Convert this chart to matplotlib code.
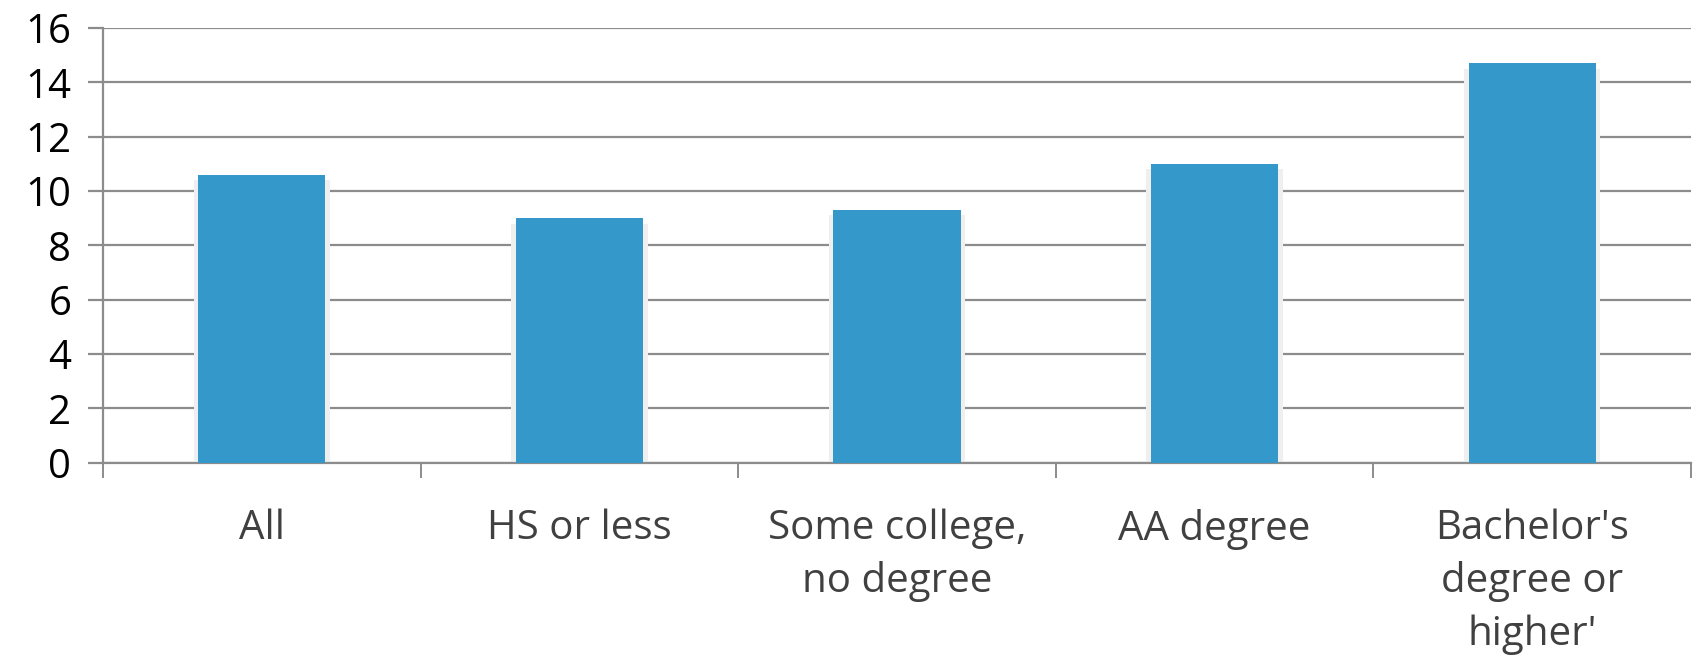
import numpy as np
import matplotlib.pyplot as plt

categorii = ["All", "HS or less", "Some college,\nno degree", "AA degree",
             "Bachelor's\ndegree or\nhigher'"]
valori = [10.6, 9.0, 9.3, 11.0, 14.7]
y_ticks = [0, 2, 4, 6, 8, 10, 12, 14, 16]

plt.rcParams['font.family'] = ['Open Sans', 'DejaVu Sans']

W, H = 1694, 664
fig = plt.figure(figsize=(W / 100, H / 100), dpi=100)
ax = fig.add_axes([103 / W, 1 - 462.7 / H, (1691 - 103) / W, (462.7 - 28) / H])

x = np.arange(len(categorii))
gri = '#8c8c8c'

# umbra discreta in jurul barelor
ax.bar(x, np.array(valori) - 0.2, width=0.43, color='#efefef', zorder=2)
ax.bar(x, valori, width=0.4, color='#3598cb', zorder=3)

ax.set_xlim(-0.5, len(categorii) - 0.5)
ax.set_ylim(0, 16)
ax.set_yticks(y_ticks)
ax.yaxis.grid(True, color=gri, linewidth=1.6, zorder=1)
ax.set_axisbelow(True)

ax.set_xticks(np.arange(len(categorii) + 1) - 0.5)
ax.set_xticklabels([])
ax.set_xticks(x, minor=True)
ax.set_xticklabels(categorii, minor=True, fontsize=29, color='#404040',
                   linespacing=1.39, va='top')
ax.tick_params(axis='x', which='major', direction='out', length=10.8,
               width=1.4, color=gri)
ax.tick_params(axis='x', which='minor', length=0, pad=33)
ax.tick_params(axis='y', direction='out', length=10.8, width=1.6, color=gri,
               labelsize=29, labelcolor='black', pad=12)

for s in ['top', 'right']:
    ax.spines[s].set_visible(False)
for s in ['left', 'bottom']:
    ax.spines[s].set_color(gri)
    ax.spines[s].set_linewidth(1.6)

fig.savefig("out.png", dpi=100)
